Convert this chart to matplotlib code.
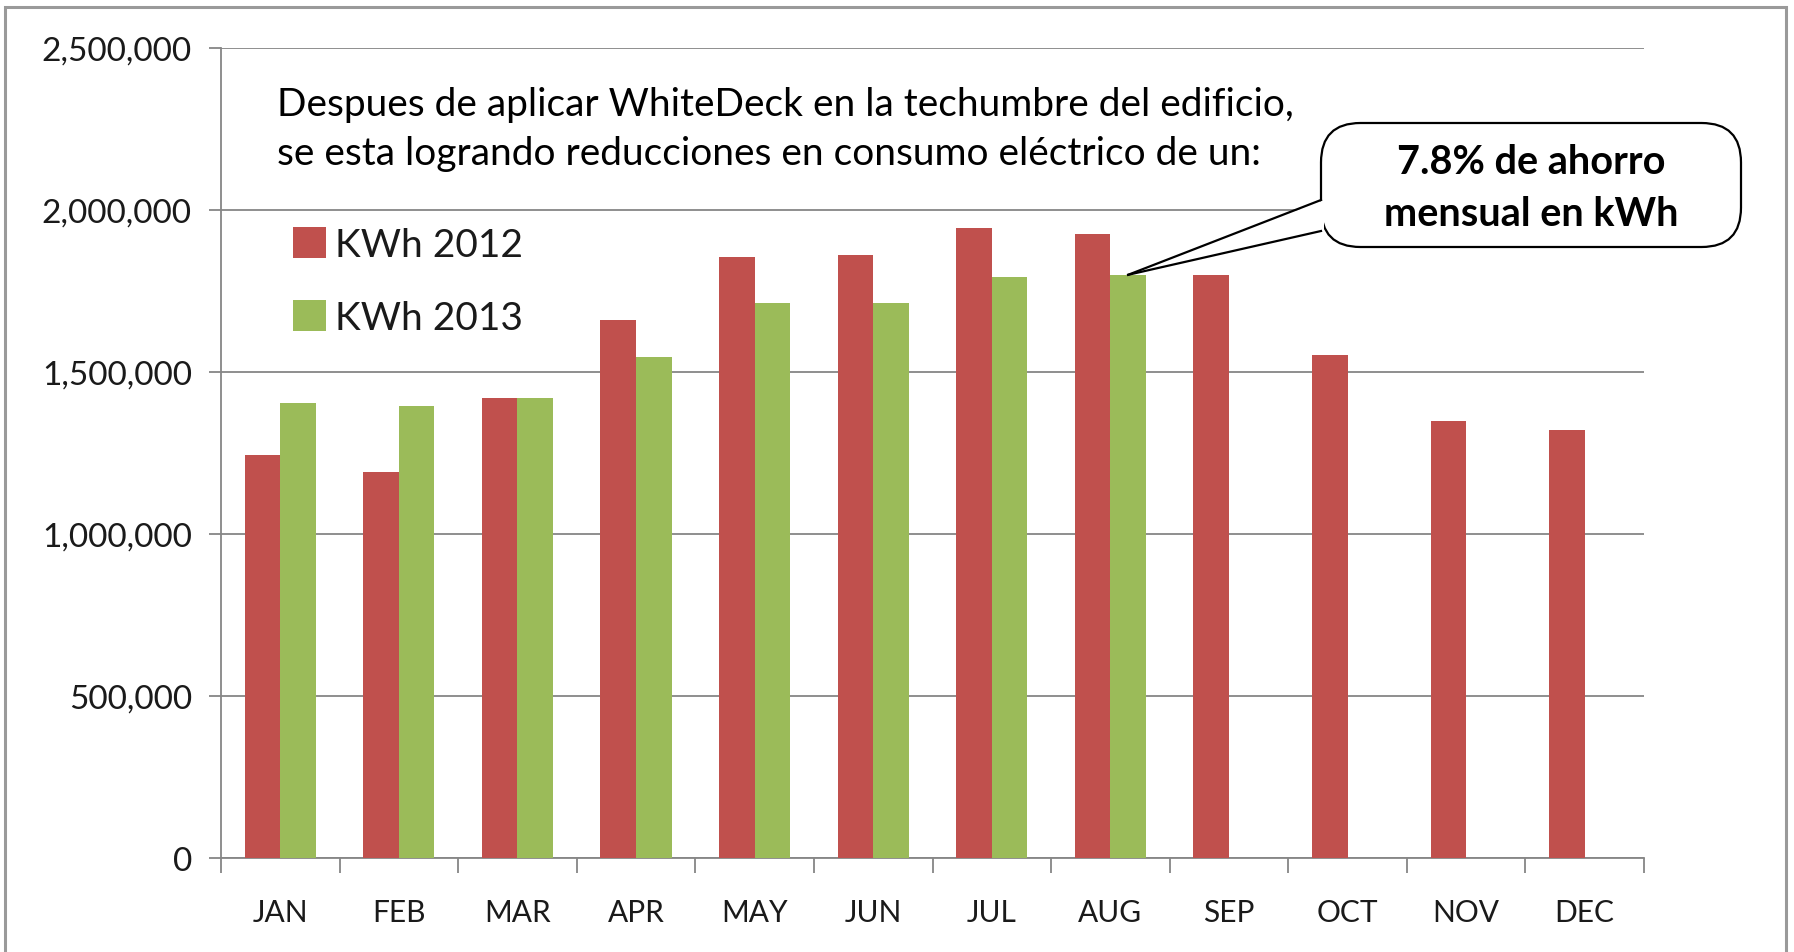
import numpy as np
import matplotlib
matplotlib.use("Agg")
import matplotlib.pyplot as plt
from matplotlib.patches import FancyBboxPatch, Polygon, Rectangle
from matplotlib.ticker import FuncFormatter, FixedLocator

months = ["JAN", "FEB", "MAR", "APR", "MAY", "JUN",
          "JUL", "AUG", "SEP", "OCT", "NOV", "DEC"]
kwh_2012 = [1245000, 1190000, 1420000, 1660000, 1855000, 1862000,
            1945000, 1925000, 1800000, 1552000, 1350000, 1322000]
kwh_2013 = [1403000, 1394000, 1420000, 1545000, 1712000, 1712000,
            1793000, 1800000]
yticks = [0, 500000, 1000000, 1500000, 2000000, 2500000]

note_lines = ["Despues de aplicar WhiteDeck en la techumbre del edificio,",
              "se esta logrando reducciones en consumo eléctrico de un:"]
callout_lines = ["7.8% de ahorro", "mensual en kWh"]

RED = "#C0504D"
GREEN = "#9BBB59"
GRID = "#868686"
W, H = 1794, 953

plt.rcParams["font.family"] = ["Lato", "DejaVu Sans"]

fig = plt.figure(figsize=(W / 100, H / 100), dpi=100)
ax = fig.add_axes([221 / W, 1 - 859 / H, (1644 - 221) / W, (859 - 49) / H])

x = np.arange(len(months))
bw = 0.3
ax.bar(x - bw / 2, kwh_2012, bw, color=RED, label="KWh 2012", zorder=3)
ax.bar(np.arange(len(kwh_2013)) + bw / 2, kwh_2013, bw, color=GREEN,
       label="KWh 2013", zorder=3)

ax.set_xlim(-0.5, len(months) - 0.5)
ax.set_ylim(0, 2500000)
ax.set_yticks(yticks)
ax.yaxis.set_major_formatter(FuncFormatter(lambda v, p: f"{int(v):,}"))
ax.grid(axis="y", color=GRID, lw=1.3, zorder=0)

ax.set_xticks(x)
ax.set_xticklabels(months)
ax.xaxis.set_minor_locator(FixedLocator(np.arange(-0.5, len(months), 1.0)))
ax.tick_params(axis="x", which="major", length=0, pad=29, labelsize=21.5,
               colors="#1a1a1a")
ax.tick_params(axis="x", which="minor", length=11, width=1.3, color=GRID,
               direction="out")
ax.tick_params(axis="y", length=9, width=1.3, color=GRID, pad=12,
               labelsize=24, labelcolor="#1a1a1a")

for s in ["top", "right"]:
    ax.spines[s].set_visible(False)
for s in ["left", "bottom"]:
    ax.spines[s].set_color(GRID)
    ax.spines[s].set_linewidth(1.3)

leg = ax.legend(loc="upper left", bbox_to_anchor=(293 / W, 1 - 228 / H),
                bbox_transform=fig.transFigure, frameon=False, fontsize=28,
                handlelength=0.85, handleheight=0.85, handletextpad=0.22,
                labelspacing=0.95, borderpad=0, borderaxespad=0)
for t in leg.get_texts():
    t.set_color("#1a1a1a")

# note text
fig.text(277 / W, 1 - 105 / H, note_lines[0], fontsize=28, va="center",
         ha="left", color="black")
fig.text(277 / W, 1 - 154 / H, note_lines[1], fontsize=28, va="center",
         ha="left", color="black")

# callout box with pointer to AUG 2013 bar
tip = ax.transData.transform((7 + bw / 2, kwh_2013[7]))
tip = fig.transFigure.inverted().transform(tip)
bx0, bx1, by0, by1 = 1321 / W, 1741 / W, 1 - 248 / H, 1 - 124 / H
wy_top, wy_bot = 1 - 201 / H, 1 - 232 / H
box = FancyBboxPatch((bx0, by0), bx1 - bx0, by1 - by0,
                     boxstyle="round,pad=0,rounding_size=0.022",
                     transform=fig.transFigure, facecolor="white",
                     edgecolor="black", lw=1.6, zorder=5,
                     mutation_aspect=W / H)
fig.patches.append(box)
wedge = Polygon([tip, (bx0 + 3 / W, wy_top), (bx0 + 3 / W, wy_bot)],
                closed=True, transform=fig.transFigure, facecolor="white",
                edgecolor="none", zorder=6)
fig.patches.append(wedge)
for wy in (wy_top, wy_bot):
    fig.lines.append(plt.Line2D([tip[0], bx0], [tip[1], wy],
                                transform=fig.transFigure, color="black",
                                lw=1.6, zorder=7))
fig.text(1531 / W, 1 - 163 / H, callout_lines[0], fontsize=28.5,
         fontweight="bold", ha="center", va="center", zorder=8)
fig.text(1531 / W, 1 - 214 / H, callout_lines[1], fontsize=28.5,
         fontweight="bold", ha="center", va="center", zorder=8)

# outer chart border
fig.patches.append(Rectangle((5 / W, -0.02), (1786 - 5) / W, 1.02 - 8 / H,
                             transform=fig.transFigure, fill=False,
                             edgecolor="#9a9a9a", lw=2.2))

fig.savefig("out.png", dpi=100)
